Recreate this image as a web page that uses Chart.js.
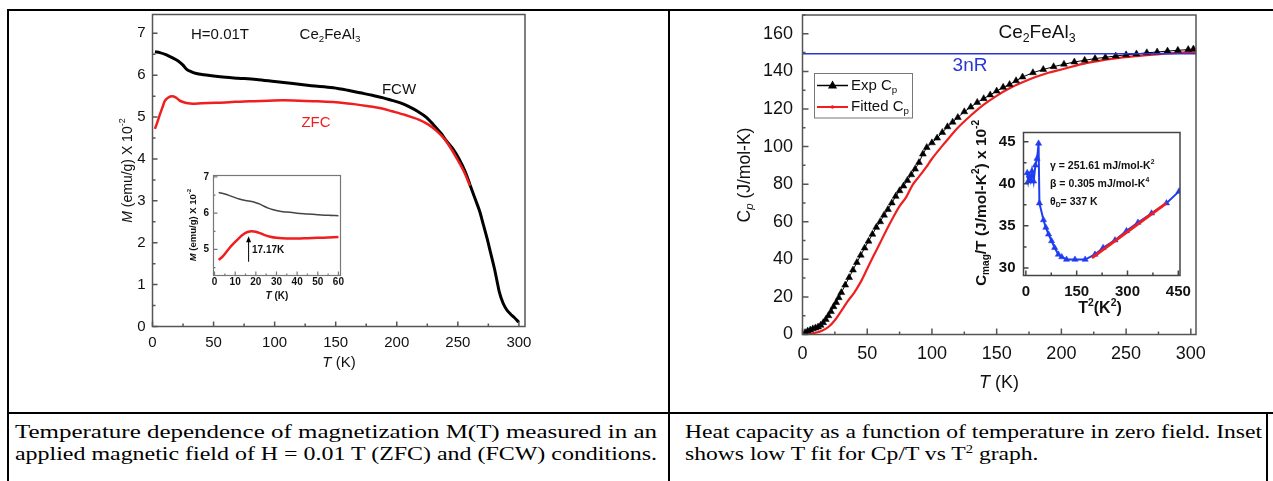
<!DOCTYPE html>
<html>
<head>
<meta charset="utf-8">
<script src="https://cdn.jsdelivr.net/npm/chart.js@4.4.1/dist/chart.umd.min.js"></script>
<style>
  body { margin: 0; background: #fff; }
  #page { position: relative; width: 1273px; height: 481px; overflow: hidden; background: #fff; }
  canvas { position: absolute; }
  .rule { position: absolute; background: #000; }
  .cap { position: absolute; font-family: "Liberation Serif", "Times New Roman", serif; font-size: 19px;
         line-height: 22px; white-space: nowrap; transform-origin: 0 0; color: #000; }
  .cap sup { font-size: 0.62em; vertical-align: super; line-height: 0; }
</style>
</head>
<body>
<div id="page">
  <div class="rule" style="left:7px;top:9px;width:1266px;height:2px"></div>
  <div class="rule" style="left:7px;top:412px;width:1266px;height:2px"></div>
  <div class="rule" style="left:7px;top:9px;width:2px;height:472px"></div>
  <div class="rule" style="left:668px;top:9px;width:2px;height:472px"></div>
  <div class="rule" style="left:1266px;top:412px;width:2px;height:69px"></div>

  <canvas id="magMain" width="450" height="372" style="left:90px;top:10px"></canvas>
  <canvas id="magInset" width="180" height="145" style="left:170px;top:165px"></canvas>
  <canvas id="cpMain" width="480" height="385" style="left:730px;top:10px"></canvas>
  <canvas id="cpInset" width="245" height="220" style="left:955px;top:105px"></canvas>

  <div class="cap" data-w="642" style="left:15px;top:421px">Temperature dependence of magnetization M(T) measured in an</div>
  <div class="cap" data-w="642" style="left:15px;top:443px">applied magnetic field of H = 0.01 T (ZFC) and (FCW) conditions.</div>
  <div class="cap" id="r1" data-w="577" style="left:685px;top:421px">Heat capacity as a function of temperature in zero field. Inset</div>
  <div class="cap" data-ref="r1" style="left:685px;top:443px">shows low T fit for Cp/T vs T<sup>2</sup> graph.</div>
</div>

<script>
// M(T) at H = 0.01 T, main panel (M in emu/g x 10^-2)
var fcwT = [2, 6, 11, 16, 21, 25, 28, 32, 36, 42, 50, 60, 70, 85, 100, 115, 130, 148, 160, 170, 180, 189, 196,
            203, 210, 217, 224, 230, 236, 241, 246, 251, 256, 260, 264, 268, 271, 274, 277, 280, 282, 284, 287,
            290, 293, 296, 300];
var fcwM = [6.56, 6.54, 6.49, 6.42, 6.34, 6.24, 6.14, 6.08, 6.04, 6.01, 5.98, 5.95, 5.93, 5.90, 5.85, 5.80, 5.75,
            5.70, 5.64, 5.58, 5.52, 5.46, 5.40, 5.34, 5.25, 5.14, 5.00, 4.82, 4.62, 4.42, 4.24, 4.00, 3.70, 3.38,
            3.06, 2.74, 2.42, 2.10, 1.74, 1.38, 1.10, 0.82, 0.56, 0.40, 0.30, 0.22, 0.10];
var zfcT = [2, 4, 6, 8, 10, 13, 16, 19, 22, 25, 29, 33, 40, 52, 65, 80, 95, 107, 120, 135, 148, 155, 165, 177,
            187, 196, 207, 218, 226, 233, 239, 245, 250, 255, 260];
var zfcM = [4.72, 4.88, 5.06, 5.22, 5.38, 5.47, 5.50, 5.47, 5.40, 5.36, 5.33, 5.32, 5.33, 5.34, 5.36, 5.38, 5.39,
            5.40, 5.39, 5.38, 5.36, 5.34, 5.31, 5.26, 5.21, 5.14, 5.05, 4.94, 4.82, 4.66, 4.48, 4.22, 3.97, 3.70,
            3.36];

// low T inset of M(T)
var inFcwT = [2, 5, 8, 12, 15, 18, 20, 22, 24, 26, 28, 31, 35, 40, 45, 50, 55, 60];
var inFcwM = [6.57, 6.53, 6.47, 6.39, 6.35, 6.32, 6.29, 6.25, 6.19, 6.14, 6.10, 6.06, 6.03, 6.00, 5.98, 5.96,
              5.94, 5.93];
var inZfcT = [2, 4, 6, 8, 10, 12, 14, 16, 18, 20, 22, 24, 27, 30, 35, 40, 45, 50, 55, 60];
var inZfcM = [4.71, 4.81, 4.95, 5.09, 5.21, 5.32, 5.42, 5.48, 5.50, 5.49, 5.45, 5.40, 5.35, 5.32, 5.30, 5.30,
              5.31, 5.32, 5.33, 5.34];

// heat capacity (J/mol-K)
var expT = [2, 4, 6, 8, 10, 12, 14, 16, 18, 20, 22, 24, 26, 28, 30, 33, 36, 39, 42, 45, 48, 51, 54, 57, 60, 63,
            66, 69, 72, 75, 78, 81, 84, 87, 90, 93, 96, 100, 104, 108, 112, 116, 120, 125, 130, 135, 140, 145,
            150, 155, 160, 165, 170, 178, 186, 194, 202, 210, 218, 226, 234, 242, 250, 258, 266, 274, 282, 290,
            298, 302];
var expCp = [1.0, 1.8, 2.4, 3.0, 3.5, 4.0, 4.9, 6.3, 8.0, 10.0, 12.2, 14.8, 17.0, 19.6, 22.3, 26.3, 30.3, 34.3,
             38.3, 42.2, 46.0, 49.6, 53.3, 57.0, 60.0, 63.5, 66.5, 70.0, 73.5, 76.5, 79.0, 82.0, 85.0, 88.0, 91.5,
             96.0, 99.5, 102.0, 104.5, 107.5, 110.5, 113.0, 115.5, 118.5, 121.0, 123.5, 125.5, 127.5, 129.5, 131.5,
             133.0, 135.0, 137.0, 139.3, 141.0, 142.5, 143.8, 145.0, 145.9, 146.8, 147.5, 148.2, 148.8, 149.3,
             149.9, 150.3, 150.8, 151.2, 151.6, 151.9];
var fitT = [0, 5, 10, 15, 20, 25, 30, 35, 40, 45, 50, 55, 60, 65, 70, 75, 80, 85, 90, 95, 100, 110, 120, 130, 140,
            150, 160, 170, 180, 190, 200, 220, 240, 260, 280, 300, 304];
var fitCp = [0, 0.1, 0.9, 2.0, 4.0, 7.6, 12.6, 17.8, 22.3, 28.0, 35.0, 42.0, 48.8, 55.8, 62.3, 68.3, 73.0, 79.5,
             84.0, 88.5, 93.5, 102.0, 110.0, 116.5, 122.3, 127.0, 131.0, 134.2, 137.0, 139.3, 141.0, 144.5, 146.8,
             148.3, 149.5, 150.2, 150.3];
var dulongT = [0, 304];
var dulongCp = [149.4, 149.4];

// inset: Cmag/T (x 10^-2) vs T^2
var insetT2 = [4, 7, 10, 14, 18, 23, 28, 33, 37.5, 40, 52, 59, 67, 76, 85, 96, 106, 120, 145, 175, 204, 228, 263,
               297, 331, 371, 415, 452];
var insetC = [41.3, 40.3, 41.0, 40.4, 41.5, 40.3, 42.2, 43.0, 44.8, 37.7, 35.7, 34.8, 34.0, 33.2, 32.4, 31.6, 31.3,
              31.0, 31.0, 31.0, 31.6, 32.4, 33.3, 34.4, 35.4, 36.5, 37.7, 39.1];
var lineT2 = [195, 415];
var lineC = [31.2, 37.7];

var SANS = '"Liberation Sans", Arial, sans-serif';
var RED = '#f01e1e';

function pts(xs, ys) {
  return xs.map(function (x, i) { return { x: x, y: ys[i] }; });
}

// rich text: parts are [text, flags] with flags among i / sub / sup
function drawRich(ctx, parts, size, weight, color, align) {
  var w = 0;
  var items = parts.map(function (p) {
    var f = p[1] || '';
    var small = f.indexOf('sub') >= 0 || f.indexOf('sup') >= 0;
    var font = (f.indexOf('i') === 0 || f.indexOf(' i') > 0 ? 'italic ' : '') + weight + ' ' +
               (small ? size * 0.65 : size) + 'px ' + SANS;
    ctx.font = font;
    var iw = ctx.measureText(p[0]).width;
    w += iw;
    return { t: p[0], font: font, w: iw,
             dy: f.indexOf('sub') >= 0 ? size * 0.3 : f.indexOf('sup') >= 0 ? -size * 0.38 : 0 };
  });
  var x = align === 'center' ? -w / 2 : align === 'right' ? -w : 0;
  ctx.fillStyle = color;
  ctx.textBaseline = 'middle';
  ctx.textAlign = 'left';
  items.forEach(function (it) {
    ctx.font = it.font;
    ctx.fillText(it.t, x, it.dy);
    x += it.w;
  });
}

// Origin style box with inward ticks
function frameTicks(id, o) {
  return {
    id: id,
    afterDatasetsDraw: function (chart) {
      var ctx = chart.ctx, a = chart.chartArea, sx = chart.scales.x, sy = chart.scales.y;
      ctx.save();
      ctx.strokeStyle = o.color;
      ctx.lineWidth = o.width;
      ctx.strokeRect(a.left, a.top, a.right - a.left, a.bottom - a.top);
      function run(scale, major, minor, fn) {
        for (var v = Math.ceil(scale.min / minor - 1e-9) * minor; v <= scale.max + 1e-9; v += minor) {
          var isMajor = Math.abs(v / major - Math.round(v / major)) < 1e-6;
          fn(scale.getPixelForValue(v), isMajor ? o.len : o.minorLen);
        }
      }
      ctx.beginPath();
      run(sx, o.xMajor, o.xMinor, function (p, l) { ctx.moveTo(p, a.bottom); ctx.lineTo(p, a.bottom - l); });
      run(sy, o.yMajor, o.yMinor, function (p, l) { ctx.moveTo(a.left, p); ctx.lineTo(a.left + l, p); });
      ctx.stroke();
      ctx.restore();
    }
  };
}

// text labels in page coordinates (ox, oy = canvas offset)
function notes(id, ox, oy, list, extra) {
  return {
    id: id,
    afterDraw: function (chart) {
      var ctx = chart.ctx;
      list.forEach(function (n) {
        ctx.save();
        ctx.translate(n.x - ox, n.y - oy);
        if (n.rot) ctx.rotate(-Math.PI / 2);
        drawRich(ctx, n.parts, n.size, n.weight || 'normal', n.color || '#111', n.align || 'center');
        ctx.restore();
      });
      if (extra) extra(chart, ctx);
    }
  };
}

function axis(min, max, step, font, pad, fit) {
  return {
    type: 'linear', min: min, max: max,
    grid: { display: false, drawTicks: false },
    border: { display: false },
    ticks: { autoSkip: false, maxRotation: 0, font: font, color: '#111', padding: pad },
    afterBuildTicks: function (s) {
      var t = [];
      for (var v = Math.ceil(min / step - 1e-9) * step; v <= max + 1e-9; v += step) {
        t.push({ value: Math.round(v * 1e6) / 1e6 });
      }
      s.ticks = t;
    },
    afterFit: function (s) {
      if (s.isHorizontal()) s.height = fit; else s.width = fit;
      s.paddingTop = s.paddingBottom = s.paddingLeft = s.paddingRight = 0;
    }
  };
}

function baseOptions(xAxis, yAxis, padding) {
  return {
    responsive: false,
    animation: false,
    events: [],
    layout: { padding: padding },
    plugins: { legend: { display: false }, tooltip: { enabled: false } },
    scales: { x: xAxis, y: yAxis }
  };
}

var f15 = { family: SANS, size: 15 };
var f18 = { family: SANS, size: 18 };

// ---- M(T) main panel
new Chart(document.getElementById('magMain'), {
  type: 'line',
  data: {
    datasets: [
      { label: 'ZFC', data: pts(zfcT, zfcM), borderColor: RED, borderWidth: 2.5, pointRadius: 0,
        cubicInterpolationMode: 'monotone' },
      { label: 'FCW', data: pts(fcwT, fcwM), borderColor: '#000', borderWidth: 3, pointRadius: 0,
        cubicInterpolationMode: 'monotone' }
    ]
  },
  options: baseOptions(axis(0, 305, 50, f15, 7, 55.5), axis(0, 7.45, 1, f15, 7, 62.5),
                       { top: 4.5, right: 15, left: 0, bottom: 0 }),
  plugins: [
    frameTicks('magFrame', { color: '#555', width: 1.5, len: 5, minorLen: 3,
                             xMajor: 50, xMinor: 25, yMajor: 1, yMinor: 0.5 }),
    notes('magNotes', 90, 10, [
      { x: 220, y: 35, size: 15, parts: [['H=0.01T']] },
      { x: 330, y: 35, size: 15, parts: [['Ce'], ['2', 'sub'], ['FeAl'], ['3', 'sub']] },
      { x: 399, y: 90, size: 15, parts: [['FCW']] },
      { x: 316, y: 123, size: 15, color: RED, parts: [['ZFC']] },
      { x: 128, y: 170.5, size: 14, rot: true, parts: [['M', 'i'], [' (emu/g) X 10'], ['-2', 'sup']] },
      { x: 339, y: 363, size: 15, parts: [['T', 'i'], [' (K)']] }
    ])
  ]
});

// ---- M(T) inset
var fb10 = { family: SANS, size: 10, weight: 'bold' };
new Chart(document.getElementById('magInset'), {
  type: 'line',
  data: {
    datasets: [
      { label: 'FCW', data: pts(inFcwT, inFcwM), borderColor: '#444', borderWidth: 1.5, pointRadius: 0,
        cubicInterpolationMode: 'monotone' },
      { label: 'ZFC', data: pts(inZfcT, inZfcM), borderColor: RED, borderWidth: 2.5, pointRadius: 0,
        cubicInterpolationMode: 'monotone' }
    ]
  },
  options: baseOptions(axis(-0.5, 61, 10, fb10, 1, 34.5), axis(4.28, 7.04, 1, fb10, 4.5, 43.5),
                       { top: 10.5, right: 9.5, left: 0, bottom: 0 }),
  plugins: [
    frameTicks('inFrame', { color: '#777', width: 1.2, len: 4, minorLen: 2,
                            xMajor: 10, xMinor: 5, yMajor: 1, yMinor: 0.5 }),
    notes('inNotes', 170, 165, [
      { x: 193, y: 225, size: 9.5, weight: 'bold', rot: true,
        parts: [['M', 'i'], [' (emu/g) X 10'], ['-2', 'sup']] },
      { x: 277, y: 296, size: 10, weight: 'bold', parts: [['T', 'i'], [' (K)']] },
      { x: 252, y: 250.5, size: 10, weight: 'bold', align: 'left', parts: [['17.17K']] }
    ], function (chart, ctx) {
      // arrow marking the ZFC peak
      var px = chart.scales.x.getPixelForValue(16.5);
      var y0 = chart.scales.y.getPixelForValue(4.66);
      var y1 = chart.scales.y.getPixelForValue(5.36);
      ctx.save();
      ctx.strokeStyle = '#000';
      ctx.fillStyle = '#000';
      ctx.lineWidth = 1;
      ctx.beginPath(); ctx.moveTo(px, y0); ctx.lineTo(px, y1 + 4); ctx.stroke();
      ctx.beginPath(); ctx.moveTo(px, y1); ctx.lineTo(px - 2.5, y1 + 6); ctx.lineTo(px + 2.5, y1 + 6);
      ctx.closePath(); ctx.fill();
      ctx.restore();
    })
  ]
});

// ---- heat capacity main panel
new Chart(document.getElementById('cpMain'), {
  type: 'line',
  data: {
    datasets: [
      { label: '3nR', data: pts(dulongT, dulongCp), borderColor: '#2b35d8', borderWidth: 1.5, pointRadius: 0 },
      { label: 'Exp Cp', data: pts(expT, expCp), borderColor: '#000', backgroundColor: '#000', borderWidth: 1,
        pointStyle: 'triangle', pointRadius: 4, pointBorderWidth: 0.5 },
      { label: 'Fitted Cp', data: pts(fitT, fitCp), borderColor: RED, borderWidth: 2.2, pointRadius: 0,
        cubicInterpolationMode: 'monotone' }
    ]
  },
  options: baseOptions(axis(0, 304, 50, f18, 9, 60.5), axis(0, 170, 20, f18, 9.5, 72.5),
                       { top: 5, right: 14, left: 0, bottom: 0 }),
  plugins: [
    frameTicks('cpFrame', { color: '#555', width: 1.5, len: 6, minorLen: 3,
                            xMajor: 50, xMinor: 25, yMajor: 20, yMinor: 10 }),
    notes('cpNotes', 730, 10, [
      { x: 1037, y: 33, size: 19, parts: [['Ce'], ['2', 'sub'], ['FeAl'], ['3', 'sub']] },
      { x: 970, y: 66, size: 19, color: '#2b35d8', parts: [['3nR']] },
      { x: 745, y: 175, size: 17.5, rot: true, parts: [['C'], ['p', 'sub i'], [' (J/mol-K)']] },
      { x: 999, y: 383, size: 18, parts: [['T', 'i'], [' (K)']] },
      { x: 851, y: 85.5, size: 15, align: 'left', parts: [['Exp C'], ['p', 'sub']] },
      { x: 851, y: 107, size: 15, align: 'left', parts: [['Fitted C'], ['p', 'sub']] }
    ], function (chart, ctx) {
      // legend box with line samples
      var ds = chart.data.datasets;
      ctx.save();
      ctx.translate(-730, -10);
      ctx.strokeStyle = '#777';
      ctx.lineWidth = 1;
      ctx.strokeRect(814.5, 73.5, 98, 44.5);
      ctx.strokeStyle = ds[1].borderColor; ctx.lineWidth = 1.5;
      ctx.beginPath(); ctx.moveTo(817, 85.5); ctx.lineTo(848, 85.5); ctx.stroke();
      ctx.fillStyle = ds[1].backgroundColor;
      ctx.beginPath(); ctx.moveTo(832.5, 80.5); ctx.lineTo(837, 88.5); ctx.lineTo(828, 88.5); ctx.closePath();
      ctx.fill();
      ctx.strokeStyle = ds[2].borderColor; ctx.lineWidth = 2;
      ctx.beginPath(); ctx.moveTo(817, 107); ctx.lineTo(848, 107); ctx.stroke();
      ctx.fillStyle = ds[2].borderColor;
      ctx.beginPath(); ctx.arc(832.5, 107, 1.8, 0, Math.PI * 2); ctx.fill();
      ctx.restore();
    })
  ]
});

// ---- Cmag/T vs T^2 inset
var fb15 = { family: SANS, size: 15, weight: 'bold' };
var BLUE = '#1f3cf0';
new Chart(document.getElementById('cpInset'), {
  type: 'line',
  data: {
    datasets: [
      { label: 'fit', data: pts(lineT2, lineC), borderColor: RED, borderWidth: 3, pointRadius: 0 },
      { label: 'Cmag/T', data: pts(insetT2, insetC), borderColor: BLUE, backgroundColor: BLUE, borderWidth: 2,
        pointStyle: 'triangle', pointRadius: 3.6, pointBorderWidth: 0.5 }
    ]
  },
  options: baseOptions(axis(-7, 455, 150, fb15, 7.5, 49.5), axis(29.1, 46.1, 5, fb15, 8, 68.5),
                       { top: 27.5, right: 20, left: 0, bottom: 0 }),
  plugins: [
    frameTicks('cmFrame', { color: '#444', width: 1.5, len: 5, minorLen: 3,
                            xMajor: 150, xMinor: 75, yMajor: 5, yMinor: 2.5 }),
    notes('cmNotes', 955, 105, [
      { x: 982, y: 203, size: 15.5, weight: 'bold', rot: true,
        parts: [['C'], ['mag', 'sub'], ['/T (J/mol-K'], ['2', 'sup'], [') x 10'], ['-2', 'sup']] },
      { x: 1100, y: 309, size: 16, weight: 'bold', parts: [['T'], ['2', 'sup'], ['(K'], ['2', 'sup'], [')']] },
      { x: 1050, y: 166, size: 10.5, weight: 'bold', align: 'left', parts: [['\u03b3 = 251.61 mJ/mol-K'], ['2', 'sup']] },
      { x: 1050, y: 184, size: 10.5, weight: 'bold', align: 'left', parts: [['\u03b2 = 0.305 mJ/mol-K'], ['4', 'sup']] },
      { x: 1050, y: 202, size: 10.5, weight: 'bold', align: 'left', parts: [['\u03b8'], ['D', 'sub'], ['= 337 K']] }
    ])
  ]
});

// captions: stretch each line to the width it has in the table cell
var scales = {};
document.querySelectorAll('.cap[data-w]').forEach(function (el) {
  var k = parseFloat(el.dataset.w) / el.getBoundingClientRect().width;
  scales[el.id] = k;
  el.style.transform = 'scaleX(' + k + ')';
});
document.querySelectorAll('.cap[data-ref]').forEach(function (el) {
  el.style.transform = 'scaleX(' + scales[el.dataset.ref] + ')';
});
</script>
</body>
</html>
